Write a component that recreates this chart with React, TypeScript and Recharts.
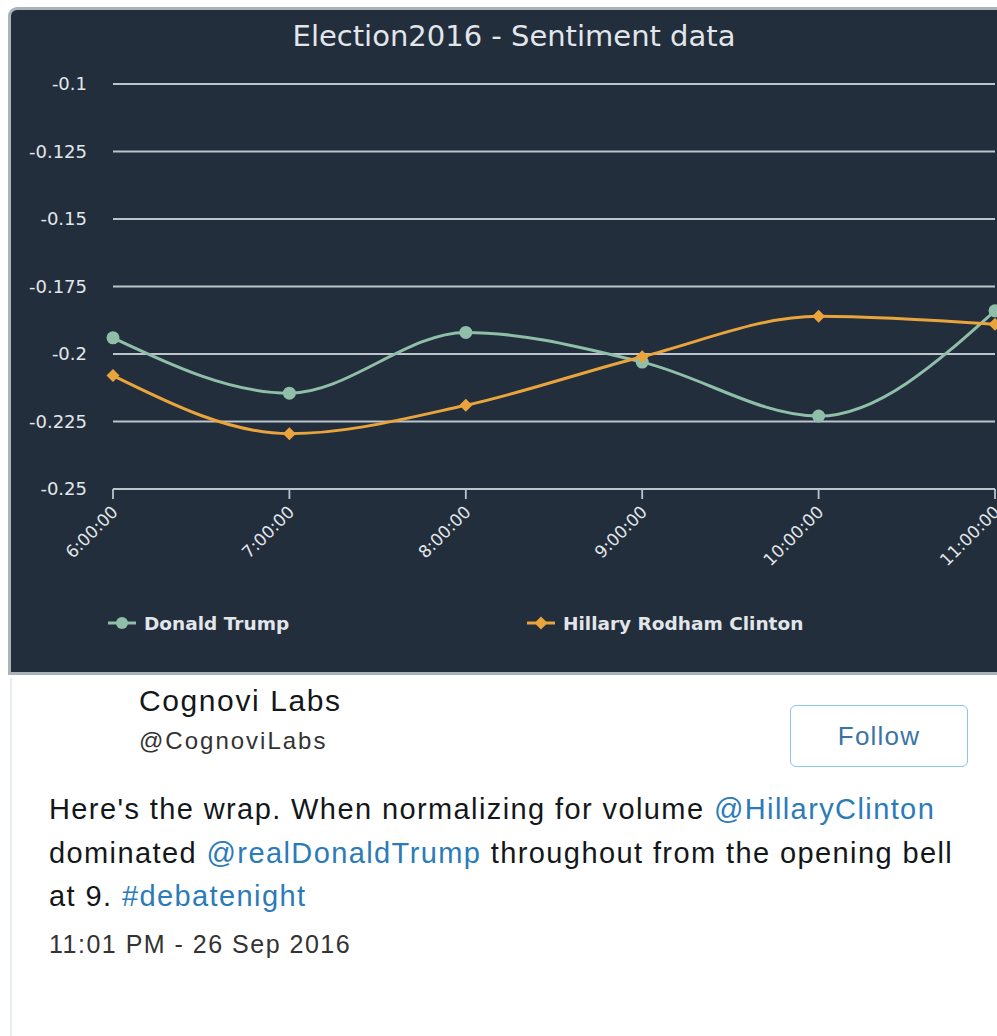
import React from "react";
import { LineChart, Line, XAxis, YAxis, CartesianGrid } from "recharts";

const hours = ["6:00:00", "7:00:00", "8:00:00", "9:00:00", "10:00:00", "11:00:00"];
const trumpValues = [-0.194, -0.2145, -0.192, -0.203, -0.223, -0.184];
const clintonValues = [-0.208, -0.2295, -0.219, -0.201, -0.186, -0.189];
const yTicks = [-0.25, -0.225, -0.2, -0.175, -0.15, -0.125, -0.1];

const TRUMP = "#8fbea9";
const CLINTON = "#e9a43c";
const PANEL = "#222e3c";
const GRID = "#bcc4cc";
const TEXT = "#e2e6ea";
const CHART_FONT = "'DejaVu Sans', sans-serif";
const CARD_FONT = "'Liberation Sans', Arial, sans-serif";
const LINK = "#2b7bb9";

const series = [
  { key: "trump", name: "Donald Trump", color: TRUMP, marker: "circle", legendLeft: 97 },
  { key: "clinton", name: "Hillary Rodham Clinton", color: CLINTON, marker: "diamond", legendLeft: 516 },
];

const data = hours.map((h, i) => ({ hour: h, trump: trumpValues[i], clinton: clintonValues[i] }));

const Diamond = (props: any) => {
  const { cx, cy, fill } = props;
  if (cx == null || cy == null) return null;
  const r = 6.5;
  return <path d={`M${cx},${cy - r}L${cx + r},${cy}L${cx},${cy + r}L${cx - r},${cy}Z`} fill={fill} />;
};

const XTick = ({ x, y, payload }: any) => (
  <g transform={`translate(${x + 6},${y + 14})`}>
    <text
      x={0}
      y={0}
      textAnchor="end"
      transform="rotate(-45)"
      fill={TEXT}
      fontSize={17}
      fontFamily={CHART_FONT}
    >
      {payload.value}
    </text>
  </g>
);

const LegendIcon = ({ color, marker }: { color: string; marker: string }) => (
  <svg width={28} height={16} style={{ display: "block" }}>
    <line x1={0} y1={8} x2={28} y2={8} stroke={color} strokeWidth={3} />
    {marker === "circle" ? (
      <circle cx={14} cy={8} r={6} fill={color} />
    ) : (
      <path d="M14,1.5L20.5,8L14,14.5L7.5,8Z" fill={color} />
    )}
  </svg>
);

export default function App() {
  return (
    <div
      style={{
        position: "absolute",
        top: 0,
        left: 0,
        width: 997,
        height: 1036,
        overflow: "hidden",
        background: "#ffffff",
      }}
    >
      {/* chart panel */}
      <div
        style={{
          position: "absolute",
          left: 8,
          top: 7,
          width: 1000,
          height: 668,
          boxSizing: "border-box",
          border: "3px solid #a9b1b9",
          borderTopLeftRadius: 9,
          background: PANEL,
        }}
      >
        <div
          style={{
            position: "absolute",
            left: 10,
            top: 12,
            width: 986,
            textAlign: "center",
            fontFamily: CHART_FONT,
            fontSize: 29,
            lineHeight: "29px",
            color: TEXT,
          }}
        >
          Election2016 - Sentiment data
        </div>

        <div style={{ position: "absolute", left: 0, top: 0 }}>
          <LineChart width={986} height={600} data={data} margin={{ top: 74, right: 2, left: 0, bottom: 0 }}>
            <CartesianGrid vertical={false} stroke={GRID} strokeWidth={1.8} />
            <XAxis
              dataKey="hour"
              interval={0}
              height={121}
              stroke={GRID}
              strokeWidth={1.8}
              tickSize={10}
              tickMargin={0}
              tick={<XTick />}
            />
            <YAxis
              width={102}
              domain={[-0.25, -0.1]}
              ticks={yTicks}
              axisLine={false}
              tickLine={false}
              tickSize={0}
              tickMargin={26}
              tickFormatter={(v: number) => String(v)}
              tick={{ fill: TEXT, fontSize: 18, fontFamily: CHART_FONT }}
            />
            <Line
              type="monotone"
              dataKey="trump"
              name="Donald Trump"
              stroke={TRUMP}
              strokeWidth={3}
              dot={{ r: 6.5, fill: TRUMP, stroke: "none" }}
              activeDot={false}
              isAnimationActive={false}
            />
            <Line
              type="monotone"
              dataKey="clinton"
              name="Hillary Rodham Clinton"
              stroke={CLINTON}
              strokeWidth={3}
              dot={<Diamond fill={CLINTON} />}
              activeDot={false}
              isAnimationActive={false}
            />
          </LineChart>
        </div>

        {series.map((s) => (
          <div
            key={s.key}
            style={{
              position: "absolute",
              left: s.legendLeft,
              top: 601,
              height: 24,
              display: "flex",
              alignItems: "center",
              gap: 8,
              fontFamily: CHART_FONT,
              fontWeight: "bold",
              fontSize: 18.5,
              color: TEXT,
              whiteSpace: "nowrap",
            }}
          >
            <LegendIcon color={s.color} marker={s.marker} />
            <span>{s.name}</span>
          </div>
        ))}
      </div>

      {/* tweet card */}
      <div style={{ position: "absolute", left: 10, top: 678, width: 2, height: 358, background: "#e6ecf0" }} />
      <div
        style={{
          position: "absolute",
          left: 139,
          top: 686,
          fontFamily: CARD_FONT,
          fontSize: 30,
          lineHeight: "30px",
          letterSpacing: 1.6,
          color: "#14171a",
          whiteSpace: "nowrap",
        }}
      >
        Cognovi Labs
      </div>
      <div
        style={{
          position: "absolute",
          left: 139,
          top: 729,
          fontFamily: CARD_FONT,
          fontSize: 24,
          lineHeight: "24px",
          letterSpacing: 2,
          color: "#333333",
          whiteSpace: "nowrap",
        }}
      >
        @CognoviLabs
      </div>
      <div
        style={{
          position: "absolute",
          left: 790,
          top: 705,
          width: 178,
          height: 62,
          boxSizing: "border-box",
          border: "1.5px solid #8cc4ee",
          borderRadius: 6,
          display: "flex",
          alignItems: "center",
          justifyContent: "center",
          fontFamily: CARD_FONT,
          fontSize: 26,
          letterSpacing: 1.2,
          color: "#3a74a6",
        }}
      >
        Follow
      </div>
      <div
        style={{
          position: "absolute",
          left: 49,
          top: 788,
          fontFamily: CARD_FONT,
          fontSize: 29,
          lineHeight: "43.5px",
          letterSpacing: 1.4,
          color: "#14171a",
          whiteSpace: "nowrap",
        }}
      >
        <div>
          Here's the wrap. When normalizing for volume <span style={{ color: LINK }}>@HillaryClinton</span>
        </div>
        <div>
          dominated <span style={{ color: LINK }}>@realDonaldTrump</span> throughout from the opening bell
        </div>
        <div>
          at 9. <span style={{ color: LINK }}>#debatenight</span>
        </div>
      </div>
      <div
        style={{
          position: "absolute",
          left: 49,
          top: 932,
          fontFamily: CARD_FONT,
          fontSize: 25,
          lineHeight: "25px",
          letterSpacing: 1.5,
          color: "#333333",
          whiteSpace: "nowrap",
        }}
      >
        11:01 PM - 26 Sep 2016
      </div>
    </div>
  );
}
